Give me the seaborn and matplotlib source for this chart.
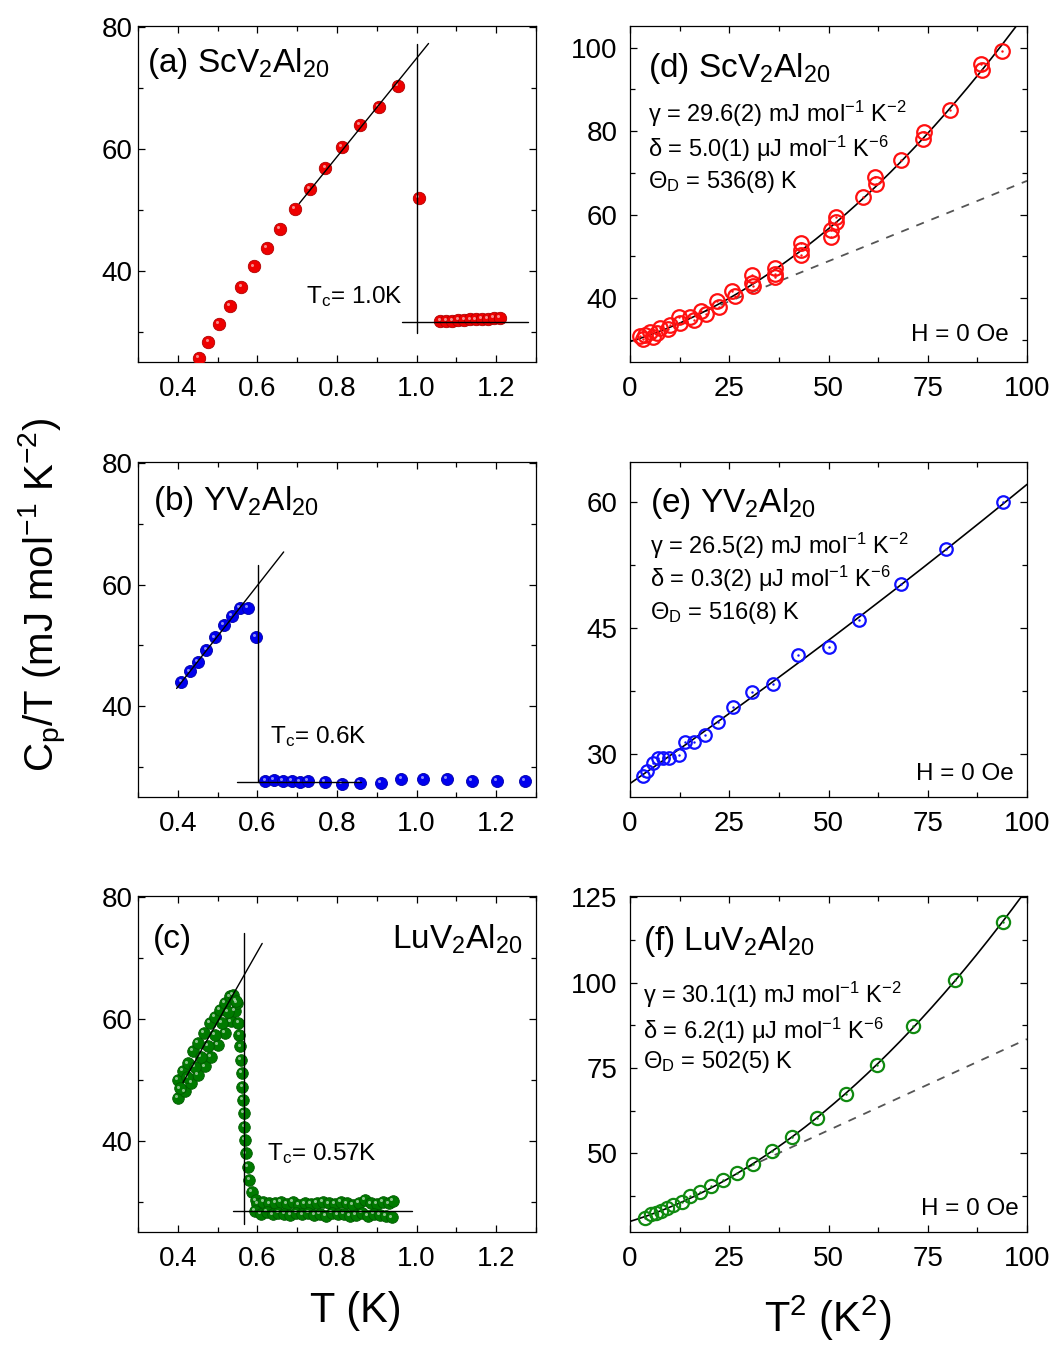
import numpy as np
import pandas as pd
import seaborn as sns
import matplotlib.pyplot as plt
from matplotlib.ticker import MultipleLocator
from matplotlib.transforms import ScaledTranslation

sns.set_theme(style='ticks')
plt.rcParams['font.family'] = ['Liberation Sans', 'DejaVu Sans']
plt.rcParams['mathtext.fontset'] = 'custom'
plt.rcParams['mathtext.rm'] = 'Liberation Sans'
plt.rcParams['mathtext.it'] = 'Liberation Sans:italic'
plt.rcParams['mathtext.default'] = 'regular'
plt.rcParams['axes.linewidth'] = 0.9
plt.rcParams['text.color'] = 'black'
plt.rcParams['xtick.color'] = 'black'
plt.rcParams['ytick.color'] = 'black'
plt.rcParams['xtick.labelcolor'] = 'black'
plt.rcParams['ytick.labelcolor'] = 'black'

# ---- (a) ScV2Al20, C/T vs T
a_T = [0.4525, 0.477, 0.503, 0.531, 0.56, 0.591, 0.623, 0.6575, 0.694, 0.731, 0.771, 0.813,
       0.858, 0.906, 0.953, 1.005, 1.06, 1.075, 1.09, 1.105, 1.12, 1.135, 1.15, 1.165, 1.18,
       1.195, 1.21]
a_C = [25.7, 28.3, 31.3, 34.2, 37.4, 40.7, 43.8, 46.8, 50.1, 53.4, 56.9, 60.4, 63.9, 66.9,
       70.3, 51.9, 31.8, 31.7, 31.8, 31.9, 31.9, 32.0, 32.0, 32.1, 32.1, 32.2, 32.3]

# ---- (b) YV2Al20
b_T = [0.409, 0.43, 0.451, 0.472, 0.493, 0.515, 0.536, 0.557, 0.577, 0.597, 0.62, 0.642,
       0.664, 0.686, 0.706, 0.7275, 0.77, 0.813, 0.8575, 0.91, 0.962, 1.017, 1.077, 1.138,
       1.2025, 1.272]
b_C = [43.9, 45.7, 47.2, 49.3, 51.3, 53.3, 54.8, 56.1, 56.2, 51.4, 27.7, 27.8, 27.7, 27.7,
       27.5, 27.6, 27.5, 27.2, 27.3, 27.3, 28.0, 27.95, 27.95, 27.7, 27.6, 27.7]

# ---- (c) LuV2Al20 (two overlapping runs)
c_T = [0.401, 0.413, 0.426, 0.438, 0.451, 0.466, 0.48, 0.4925, 0.505, 0.5175, 0.53, 0.538,
       0.401, 0.4175, 0.434, 0.451, 0.4675, 0.484, 0.501, 0.5175, 0.5325, 0.5425, 0.549,
       0.406, 0.424, 0.442, 0.459, 0.476, 0.493, 0.51, 0.525, 0.545,
       0.5525, 0.555, 0.5575, 0.559, 0.5608, 0.5625, 0.564, 0.566, 0.5675, 0.569, 0.5717,
       0.576, 0.58, 0.586, 0.597,
       0.60, 0.615, 0.63, 0.645, 0.66, 0.675, 0.69, 0.705, 0.72, 0.735, 0.75, 0.765, 0.78,
       0.795, 0.81, 0.825, 0.84, 0.855, 0.87, 0.885, 0.90, 0.915, 0.93, 0.94,
       0.593, 0.608, 0.623, 0.638, 0.653, 0.668, 0.683, 0.698, 0.713, 0.728, 0.743, 0.758,
       0.773, 0.788, 0.803, 0.818, 0.833, 0.848, 0.863, 0.878, 0.893, 0.908, 0.923, 0.938]
c_C = [50.0, 51.4, 52.7, 54.7, 56.0, 57.7, 59.3, 60.4, 61.5, 62.6, 63.7, 64.0,
       47.0, 48.1, 49.5, 50.8, 52.2, 53.8, 55.8, 57.7, 59.6, 61.3, 62.6,
       48.6, 50.4, 52.1, 53.8, 55.6, 57.4, 59.4, 61.2, 62.9,
       59.3, 57.4, 55.5, 53.3, 51.1, 48.9, 46.7, 44.5, 42.3, 40.1, 37.9,
       35.7, 33.5, 31.6, 30.2,
       29.6, 29.9, 29.7, 29.8, 30.0, 29.6, 29.9, 29.5, 29.7, 29.6, 29.8, 29.9, 29.7,
       29.6, 29.9, 29.7, 29.5, 29.8, 30.3, 29.7, 29.6, 29.9, 29.7, 30.1,
       28.4, 28.0, 28.3, 27.9, 28.2, 28.0, 27.8, 28.1, 27.9, 28.2, 27.8, 28.0,
       27.7, 28.1, 27.9, 28.0, 27.6, 27.8, 28.1, 27.7, 28.0, 27.8, 27.6, 27.4]

# ---- (d)-(f): C/T vs T^2
d_T2 = [2.5, 3.2, 3.8, 5.0, 5.9, 6.7, 7.5, 9.6, 10.1, 12.4, 12.6, 15.1, 16.1, 18.0, 19.1,
        21.8, 22.4, 25.8, 26.4, 30.8, 30.8, 31.0, 36.4, 36.4, 36.4, 43.0, 43.0, 43.0, 50.7,
        50.7, 51.8, 51.9, 58.6, 61.8, 62.0, 68.3, 73.9, 74.1, 80.6, 88.4, 88.6, 93.8]
d_C = [30.9, 30.2, 31.2, 32.0, 30.8, 31.7, 32.8, 32.6, 33.6, 35.4, 34.0, 35.6, 34.8, 37.0,
       36.2, 39.2, 37.8, 41.8, 40.4, 45.6, 43.6, 42.8, 47.2, 45.8, 45.0, 53.3, 51.5, 50.3,
       56.3, 54.6, 59.5, 58.3, 64.2, 69.0, 67.4, 73.1, 78.1, 79.7, 85.1, 96.1, 94.7, 99.3]

e_T2 = [3.35, 4.36, 5.9, 7.1, 8.4, 9.9, 12.3, 13.9, 16.1, 18.9, 22.1, 26.0, 30.8, 35.9,
        42.4, 50.0, 57.8, 68.3, 79.5, 94.0]
e_C = [27.4, 28.0, 28.9, 29.5, 29.5, 29.5, 29.9, 31.4, 31.45, 32.25, 33.8, 35.6, 37.4, 38.3,
       41.8, 42.7, 45.9, 50.25, 54.4, 60.0]

f_T2 = [3.8, 5.2, 6.5, 7.7, 9.2, 10.9, 13.0, 15.1, 17.6, 20.3, 23.5, 26.9, 30.9, 35.7, 40.7,
        47.2, 54.4, 62.2, 71.4, 81.9, 93.9]
f_C = [31.0, 32.2, 32.6, 33.1, 33.9, 34.9, 35.9, 37.4, 38.8, 40.5, 42.3, 44.4, 47.0, 50.6,
       54.8, 60.4, 67.4, 76.0, 87.2, 100.9, 117.7]

# fit parameters (gamma in mJ/mol K^2, delta in mJ/mol K^6, Theta_D in K)
gammas = [29.6, 26.5, 30.1]
deltas = [0.0050, 0.0003, 0.0062]
thetas = [536, 516, 502]
dash_slopes = [0.385, None, 0.534]
dash_starts = [19, None, 29]

# left panels: linear fit below Tc, Tc line and normal-state line
fit_ranges = [(0.705, 1.03), (0.397, 0.666), (0.413, 0.612)]
fit_slopes = [80.9, 83.6, 114.8]
fit_icepts = [-6.0, 9.7, 2.15]
tc_vals = [1.0, 0.601, 0.566]
tc_spans = [(29.7, 77.2), (27.5, 63.2), (26.3, 74.1)]
norm_vals = [31.6, 27.5, 28.5]
norm_ranges = [(0.963, 1.28), (0.549, 0.861), (0.538, 0.988)]

fig = plt.figure(figsize=(10.55, 13.45), dpi=100)
W, H = 1055, 1345


def make_ax(l, r, t, b):
    return fig.add_axes([l / W, 1 - b / H, (r - l) / W, (b - t) / H])


rows = [(26, 362), (462, 797), (896, 1232)]
axL = [make_ax(138, 536, t, b) for t, b in rows]
axR = [make_ax(630, 1027, t, b) for t, b in rows]


def style(ax, ypad):
    ax.tick_params(which='both', direction='in', top=True, right=True, width=0.9,
                   labelsize=20, color='black', labelcolor='black')
    ax.tick_params(which='major', length=5)
    ax.tick_params(which='minor', length=3.5)
    ax.tick_params(axis='x', pad=10)
    ax.tick_params(axis='y', pad=ypad)
    for s in ax.spines.values():
        s.set_color('black')
    ax.set_xlabel('')
    ax.set_ylabel('')


left_data = [(a_T, a_C), (b_T, b_C), (c_T, c_C)]
left_cols = ['#ee0000', '#0000ee', '#007a00']
left_edge = ['#b00000', '#0000a8', '#005a00']
left_size = [80, 75, 70]
titles_L = [r'(a) ScV$_2$Al$_{20}$', r'(b) YV$_2$Al$_{20}$', '(c)']
tc_text = [r'T$_c$= 1.0K', r'T$_c$= 0.6K', r'T$_c$= 0.57K']
tc_pos = [(0.421, 0.175), (0.332, 0.160), (0.323, 0.214)]
title_pos_L = [(0.023, 0.864), (0.037, 0.857), (0.037, 0.844)]

hl = ScaledTranslation(-1.3 / 72, 1.3 / 72, fig.dpi_scale_trans)

for i, ax in enumerate(axL):
    T, C = left_data[i]
    x0, x1 = fit_ranges[i]
    fx = np.array([x0, x1])
    ax.plot(fx, fit_slopes[i] * fx + fit_icepts[i], color='black', lw=1.0, zorder=4)
    ax.plot([tc_vals[i], tc_vals[i]], tc_spans[i], color='black', lw=1.0, zorder=4)
    ax.plot(norm_ranges[i], [norm_vals[i]] * 2, color='black', lw=1.0, zorder=4)
    sns.scatterplot(x=T, y=C, color=left_cols[i], edgecolor=left_edge[i], linewidth=0.6,
                    s=left_size[i], ax=ax, zorder=3)
    ax.plot(T, C, 'o', ms=2.2, color='white', alpha=0.55, mew=0,
            transform=ax.transData + hl, zorder=3.5)
    ax.set_xlim(0.3, 1.3)
    ax.set_ylim(25, 80.2)
    ax.xaxis.set_minor_locator(MultipleLocator(0.1))
    ax.set_xticks([0.4, 0.6, 0.8, 1.0, 1.2])
    ax.set_xticklabels(['0.4', '0.6', '0.8', '1.0', '1.2'])
    ax.set_yticks([40, 60, 80])
    ax.yaxis.set_minor_locator(MultipleLocator(10))
    style(ax, 4)
    ax.text(*title_pos_L[i], titles_L[i], transform=ax.transAxes, fontsize=24,
            va='baseline', ha='left')
    ax.text(*tc_pos[i], tc_text[i], transform=ax.transAxes, fontsize=17.5,
            va='baseline', ha='left')
axL[2].text(0.967, 0.844, r'LuV$_2$Al$_{20}$', transform=axL[2].transAxes, fontsize=24,
            va='baseline', ha='right')

right_data = [(d_T2, d_C), (e_T2, e_C), (f_T2, f_C)]
right_cols = ['#ff1010', '#1010ff', '#108a10']
right_ms = [10.5, 9.0, 9.5]
names = ['ScV$_2$Al$_{20}$', 'YV$_2$Al$_{20}$', 'LuV$_2$Al$_{20}$']
letters = ['(d)', '(e)', '(f)']
gam_err = ['29.6(2)', '26.5(2)', '30.1(1)']
del_err = ['5.0(1)', '0.3(2)', '6.2(1)']
th_err = ['536(8)', '516(8)', '502(5)']
ylims_R = [(24.7, 105.2), (24.9, 64.7), (27.0, 125.4)]
yticks_R = [[40, 60, 80, 100], [30, 45, 60], [50, 75, 100, 125]]
yminor_R = [10, 7.5, 12.5]
title_pos_R = [(0.046, 0.847), (0.05, 0.85), (0.034, 0.839)]
par_y = [(0.715, 0.611, 0.517), (0.725, 0.626, 0.531), (0.681, 0.576, 0.487)]
hoe_pos = [(0.953, 0.063), (0.967, 0.052), (0.979, 0.051)]

x_fit = np.linspace(0, 100, 400)
for i, ax in enumerate(axR):
    x2, C = right_data[i]
    # Debye coefficient in mJ mol^-1 K^-4 for 23 atoms per formula unit
    beta = 1000 * 12 * np.pi ** 4 * 8.314 * 23 / (5 * thetas[i] ** 3)
    y_fit = gammas[i] + beta * x_fit + deltas[i] * x_fit ** 2
    sns.lineplot(x=x_fit, y=y_fit, color='black', lw=1.2, ax=ax, zorder=2)
    if dash_slopes[i] is not None:
        xd = np.array([dash_starts[i], 100])
        ax.plot(xd, gammas[i] + dash_slopes[i] * xd, color='#555555', lw=1.3,
                dashes=(4.5, 4.5), zorder=1)
    ax.plot(x2, C, 'o', mfc='none', mec=right_cols[i], mew=1.6, ms=right_ms[i], zorder=3)
    ax.plot(x2, C, '.', ms=1.5, color=right_cols[i], zorder=3)
    ax.set_xlim(0, 100)
    ax.set_ylim(*ylims_R[i])
    ax.set_xticks([0, 25, 50, 75, 100])
    ax.xaxis.set_minor_locator(MultipleLocator(12.5))
    ax.set_yticks(yticks_R[i])
    ax.yaxis.set_minor_locator(MultipleLocator(yminor_R[i]))
    style(ax, 9)
    tx = title_pos_R[i][0]
    ax.text(*title_pos_R[i], letters[i] + ' ' + names[i], transform=ax.transAxes,
            fontsize=24, va='baseline', ha='left')
    py = par_y[i]
    ax.text(tx, py[0], 'γ = ' + gam_err[i] + r' mJ mol$^{-1}$ K$^{-2}$',
            transform=ax.transAxes, fontsize=17, va='baseline')
    ax.text(tx, py[1], 'δ = ' + del_err[i] + r' μJ mol$^{-1}$ K$^{-6}$',
            transform=ax.transAxes, fontsize=17, va='baseline')
    ax.text(tx, py[2], r'Θ$_D$ = ' + th_err[i] + ' K',
            transform=ax.transAxes, fontsize=17, va='baseline')
    ax.text(*hoe_pos[i], 'H = 0 Oe', transform=ax.transAxes, fontsize=17.5,
            va='baseline', ha='right')

fig.text(0.041, 0.558, r'C$_p$/T (mJ mol$^{-1}$ K$^{-2}$)', rotation=90, fontsize=29,
         ha='center', va='center', color='black')
fig.text(0.337, 1 - 1322 / H, 'T (K)', fontsize=30, ha='center', va='baseline',
         color='black')
fig.text(0.785, 1 - 1332 / H, r'T$^2$ (K$^2$)', fontsize=30, ha='center', va='baseline',
         color='black')

fig.savefig('out.png', dpi=100)
